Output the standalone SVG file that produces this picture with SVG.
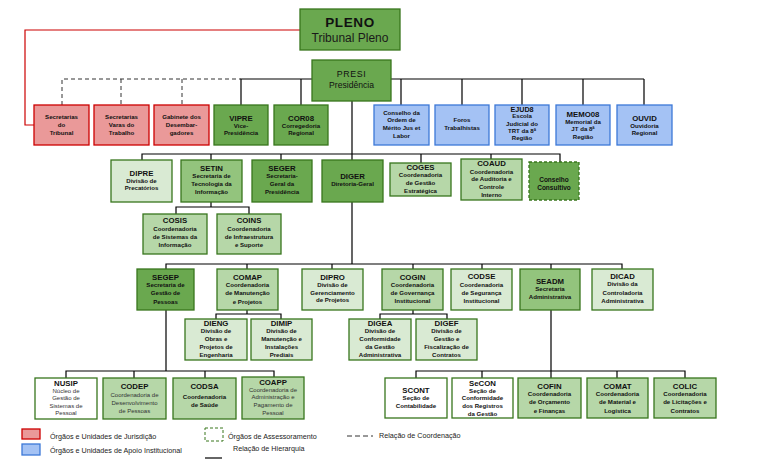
<svg xmlns="http://www.w3.org/2000/svg" width="768" height="470" viewBox="0 0 768 470">
<style>
text{font-family:"Liberation Sans",Arial,sans-serif;text-anchor:middle;fill:#111}
.a{font-size:7.8px;font-weight:bold}
.d{font-size:6.1px;font-weight:bold}
.n{font-size:6px;fill:#333}
.lg{font-size:7.2px;text-anchor:start;fill:#222}
.g1{fill:#6aa84f;stroke:#38761d;stroke-width:1.3}
.g2{fill:#93c47d;stroke:#38761d;stroke-width:1.3}
.g3{fill:#b6d7a8;stroke:#38761d;stroke-width:1.3}
.g4{fill:#d9ead3;stroke:#38761d;stroke-width:1.3}
.w{fill:#ffffff;stroke:#38761d;stroke-width:1.3}
.r{fill:#ea9999;stroke:#cc0000;stroke-width:1.3}
.b{fill:#a4c2f4;stroke:#3c78d8;stroke-width:1.3}
.c{fill:none;stroke:#000;stroke-width:1.2}
.cd{fill:none;stroke:#333;stroke-width:1;stroke-dasharray:4,3}
</style>
<rect width="768" height="470" fill="#fff"/>
<g id="connectors">
<path class="c" d="M300 30 H25 V125 H34" style="stroke:#cc0000"/>
<path class="cd" d="M62 105 V79 H241 M121 79 V105 M182 79 V105"/>
<path class="c" d="M241 105 V79 H312 M301 79 V105"/>
<path class="c" d="M391 79 H644 M401 79 V105 M462 79 V105 M522 79 V105 M583 79 V105 M644 79 V105"/>
<path class="c" d="M352 101 V160 M142 160 V154 H560 V162 M211 154 V160 M281 154 V160 M421 154 V163 M491 154 V159"/>
<path class="c" d="M211 202 V207 M176 214 V207 H249 V214"/>
<path class="c" d="M352 202 V264 M166 269 V264 H622 V269 M247 264 V269 M332 264 V269 M413 264 V269 M482 264 V269 M551 264 V269"/>
<path class="c" d="M247 310 V314 M216 319 V314 H281 V319"/>
<path class="c" d="M413 310 V314 M380 319 V314 H447 V319"/>
<path class="c" d="M166 310 V371 M66 378 V371 H274 V377 M134 371 V378 M205 371 V378"/>
<path class="c" d="M551 310 V378 M416 378 V371 H685 V378 M482 371 V378 M617 371 V378"/>
</g>
<g id="pleno"><rect class="g1" x="300" y="9" width="100" height="41"/>
<text x="350" y="27" style="font-size:13.5px;font-weight:bold;letter-spacing:0.6px">PLENO</text>
<text x="350" y="42" style="font-size:12px;fill:#1a1a1a">Tribunal Pleno</text></g>
<g id="presi"><rect class="g1" x="312" y="60" width="79" height="41"/>
<text x="351.5" y="77" style="font-size:8.8px;letter-spacing:0.6px">PRESI</text>
<text x="351.5" y="88" style="font-size:8.6px">Presidência</text></g>

<g id="sec-tribunal"><rect class="r" x="34" y="105" width="55" height="40"/>
<text class="d" x="61.5" y="119">Secretarias</text><text class="d" x="61.5" y="127">do</text><text class="d" x="61.5" y="135">Tribunal</text></g>
<g id="sec-varas"><rect class="r" x="94" y="105" width="55" height="40"/>
<text class="d" x="121.5" y="119">Secretarias</text><text class="d" x="121.5" y="127">Varas do</text><text class="d" x="121.5" y="135">Trabalho</text></g>
<g id="gabinete"><rect class="r" x="154" y="105" width="55" height="40"/>
<text class="d" x="181.5" y="119">Gabinete dos</text><text class="d" x="181.5" y="127">Desembar-</text><text class="d" x="181.5" y="135">gadores</text></g>
<g id="vipre"><rect class="g1" x="214" y="105" width="54" height="40"/>
<text class="a" x="241" y="121">VIPRE</text><text class="d" x="241" y="128">Vice-</text><text class="d" x="241" y="135">Presidência</text></g>
<g id="cor08"><rect class="g1" x="274" y="105" width="54" height="40"/>
<text class="a" x="301" y="121">COR08</text><text class="d" x="301" y="128">Corregedoria</text><text class="d" x="301" y="135">Regional</text></g>
<g id="conselho-ordem"><rect class="b" x="374" y="105" width="55" height="40"/>
<text class="d" x="401.5" y="115">Conselho da</text><text class="d" x="401.5" y="122">Ordem de</text><text class="d" x="401.5" y="130">Mérito Jus et</text><text class="d" x="401.5" y="138">Labor</text></g>
<g id="foros"><rect class="b" x="435" y="105" width="54" height="40"/>
<text class="d" x="462" y="122">Foros</text><text class="d" x="462" y="130">Trabalhistas</text></g>
<g id="ejud8"><rect class="b" x="495" y="105" width="54" height="40"/>
<text class="a" x="522" y="111.5" style="font-size:7.2px">EJUD8</text><text class="d" x="522" y="118">Escola</text><text class="d" x="522" y="126">Judicial do</text><text class="d" x="522" y="133">TRT da 8ª</text><text class="d" x="522" y="140">Região</text></g>
<g id="memo08"><rect class="b" x="556" y="105" width="54" height="40"/>
<text class="a" x="583" y="117">MEMO08</text><text class="d" x="583" y="124">Memorial da</text><text class="d" x="583" y="131">JT da 8ª</text><text class="d" x="583" y="139">Região</text></g>
<g id="ouvid"><rect class="b" x="617" y="105" width="55" height="40"/>
<text class="a" x="644.5" y="121">OUVID</text><text class="d" x="644.5" y="127.5">Ouvidoria</text><text class="d" x="644.5" y="135">Regional</text></g>

<g id="dipre"><rect class="g4" x="111" y="160" width="61" height="42"/>
<text class="a" x="141.5" y="176">DIPRE</text><text class="d" x="141.5" y="182.5">Divisão de</text><text class="d" x="141.5" y="190">Precatórios</text></g>
<g id="setin"><rect class="g2" x="181" y="160" width="61" height="42"/>
<text class="a" x="211.5" y="171">SETIN</text><text class="d" x="211.5" y="178">Secretaria de</text><text class="d" x="211.5" y="186">Tecnologia da</text><text class="d" x="211.5" y="194">Informação</text></g>
<g id="seger"><rect class="g1" x="252" y="160" width="60" height="42"/>
<text class="a" x="282" y="171">SEGER</text><text class="d" x="282" y="178">Secretaria-</text><text class="d" x="282" y="186">Geral da</text><text class="d" x="282" y="194">Presidência</text></g>
<g id="diger"><rect class="g1" x="322" y="160" width="61" height="42"/>
<text class="a" x="352.5" y="179">DIGER</text><text class="d" x="352.5" y="186">Diretoria-Geral</text></g>
<g id="coges"><rect class="g3" x="390" y="163" width="61" height="33"/>
<text class="a" x="420.5" y="170">COGES</text><text class="d" x="420.5" y="177">Coordenadoria</text><text class="d" x="420.5" y="185">de Gestão</text><text class="d" x="420.5" y="193">Estratégica</text></g>
<g id="coaud"><rect class="g3" x="461" y="159" width="61" height="41"/>
<text class="a" x="491.5" y="166">COAUD</text><text class="d" x="491.5" y="174">Coordenadoria</text><text class="d" x="491.5" y="181">de Auditoria e</text><text class="d" x="491.5" y="189">Controle</text><text class="d" x="491.5" y="197">Interno</text></g>
<g id="conselho-consultivo"><rect class="g1" x="529" y="162" width="50" height="38" style="stroke-dasharray:3,2"/>
<text class="d" x="554" y="182" style="font-size:6.5px">Conselho</text><text class="d" x="554" y="190" style="font-size:6.5px">Consultivo</text></g>

<g id="cosis"><rect class="g3" x="143" y="214" width="64" height="40"/>
<text class="a" x="175" y="223">COSIS</text><text class="d" x="175" y="231">Coordenadoria</text><text class="d" x="175" y="239">de Sistemas da</text><text class="d" x="175" y="247">Informação</text></g>
<g id="coins"><rect class="g3" x="217" y="214" width="64" height="40"/>
<text class="a" x="249" y="223">COINS</text><text class="d" x="249" y="231">Coordenadoria</text><text class="d" x="249" y="239">de Infraestrutura</text><text class="d" x="249" y="247">e Suporte</text></g>

<g id="segep"><rect class="g1" x="137" y="269" width="57" height="41"/>
<text class="a" x="165.5" y="280">SEGEP</text><text class="d" x="165.5" y="287">Secretaria de</text><text class="d" x="165.5" y="295">Gestão de</text><text class="d" x="165.5" y="304">Pessoas</text></g>
<g id="comap"><rect class="g3" x="217" y="269" width="61" height="41"/>
<text class="a" x="247.5" y="280">COMAP</text><text class="d" x="247.5" y="287">Coordenadoria</text><text class="d" x="247.5" y="295">de Manutenção</text><text class="d" x="247.5" y="304">e Projetos</text></g>
<g id="dipro"><rect class="g4" x="302" y="269" width="61" height="41"/>
<text class="a" x="332.5" y="280">DIPRO</text><text class="d" x="332.5" y="287">Divisão de</text><text class="d" x="332.5" y="295">Gerenciamento</text><text class="d" x="332.5" y="302">de Projetos</text></g>
<g id="cogin"><rect class="g3" x="382" y="269" width="61" height="41"/>
<text class="a" x="412.5" y="280">COGIN</text><text class="d" x="412.5" y="287">Coordenadoria</text><text class="d" x="412.5" y="295">de Governança</text><text class="d" x="412.5" y="303">Institucional</text></g>
<g id="codse"><rect class="g4" x="451" y="269" width="61" height="41"/>
<text class="a" x="481.5" y="279">CODSE</text><text class="d" x="481.5" y="287">Coordenadoria</text><text class="d" x="481.5" y="295">de Segurança</text><text class="d" x="481.5" y="303">Institucional</text></g>
<g id="seadm"><rect class="g2" x="520" y="269" width="60" height="41"/>
<text class="a" x="550" y="284">SEADM</text><text class="d" x="550" y="291">Secretaria</text><text class="d" x="550" y="299">Administrativa</text></g>
<g id="dicad"><rect class="g4" x="592" y="269" width="61" height="41"/>
<text class="a" x="622.5" y="279">DICAD</text><text class="d" x="622.5" y="285.5">Divisão da</text><text class="d" x="622.5" y="295">Controladoria</text><text class="d" x="622.5" y="303">Administrativa</text></g>

<g id="dieng"><rect class="g4" x="185" y="319" width="62" height="41"/>
<text class="a" x="216" y="326">DIENG</text><text class="d" x="216" y="333">Divisão de</text><text class="d" x="216" y="341">Obras e</text><text class="d" x="216" y="349">Projetos de</text><text class="d" x="216" y="357">Engenharia</text></g>
<g id="dimip"><rect class="g4" x="251" y="319" width="61" height="41"/>
<text class="a" x="281.5" y="326">DIMIP</text><text class="d" x="281.5" y="333">Divisão de</text><text class="d" x="281.5" y="341">Manutenção e</text><text class="d" x="281.5" y="349">Instalações</text><text class="d" x="281.5" y="357">Prediais</text></g>
<g id="digea"><rect class="g4" x="349" y="319" width="62" height="41"/>
<text class="a" x="380" y="326">DIGEA</text><text class="d" x="380" y="333">Divisão de</text><text class="d" x="380" y="341">Conformidade</text><text class="d" x="380" y="349">da Gestão</text><text class="d" x="380" y="357">Administrativa</text></g>
<g id="digef"><rect class="g4" x="416" y="319" width="61" height="41"/>
<text class="a" x="446.5" y="326">DIGEF</text><text class="d" x="446.5" y="333">Divisão de</text><text class="d" x="446.5" y="341">Gestão e</text><text class="d" x="446.5" y="349">Fiscalização de</text><text class="d" x="446.5" y="357">Contratos</text></g>

<g id="nusip"><rect class="w" x="35" y="378" width="62" height="41"/>
<text class="a" x="66" y="386">NUSIP</text><text class="n" x="66" y="393">Núcleo de</text><text class="n" x="66" y="400">Gestão de</text><text class="n" x="66" y="407.5">Sistemas de</text><text class="n" x="66" y="415">Pessoal</text></g>
<g id="codep"><rect class="g3" x="103" y="378" width="63" height="41"/>
<text class="a" x="134.5" y="389">CODEP</text><text class="n" x="134.5" y="397">Coordenadoria de</text><text class="n" x="134.5" y="405">Desenvolvimento</text><text class="n" x="134.5" y="412.5">de Pessoas</text></g>
<g id="codsa"><rect class="g3" x="173" y="378" width="63" height="41"/>
<text class="a" x="204.5" y="389">CODSA</text><text class="d" x="204.5" y="399">Coordenadoria</text><text class="d" x="204.5" y="407">de Saúde</text></g>
<g id="coapp"><rect class="g3" x="242" y="377" width="62" height="42"/>
<text class="a" x="273" y="385">COAPP</text><text class="n" x="273" y="392">Coordenadoria de</text><text class="n" x="273" y="399">Administração e</text><text class="n" x="273" y="406.5">Pagamento de</text><text class="n" x="273" y="415">Pessoal</text></g>
<g id="scont"><rect class="w" x="385" y="378" width="62" height="40"/>
<text class="a" x="416" y="393">SCONT</text><text class="d" x="416" y="400">Seção de</text><text class="d" x="416" y="408">Contabilidade</text></g>
<g id="secon"><rect class="w" x="452" y="378" width="61" height="40"/>
<text class="a" x="482.5" y="386">SeCON</text><text class="d" x="482.5" y="392.5">Seção de</text><text class="d" x="482.5" y="400">Conformidade</text><text class="d" x="482.5" y="408">dos Registros</text><text class="d" x="482.5" y="415.5">da Gestão</text></g>
<g id="cofin"><rect class="g3" x="518" y="378" width="63" height="40"/>
<text class="a" x="549.5" y="389">COFIN</text><text class="d" x="549.5" y="396">Coordenadoria</text><text class="d" x="549.5" y="404">de Orçamento</text><text class="d" x="549.5" y="413">e Finanças</text></g>
<g id="comat"><rect class="g3" x="587" y="378" width="61" height="40"/>
<text class="a" x="617.5" y="389">COMAT</text><text class="d" x="617.5" y="396">Coordenadoria</text><text class="d" x="617.5" y="404">de Material e</text><text class="d" x="617.5" y="413">Logística</text></g>
<g id="colic"><rect class="g3" x="654" y="378" width="62" height="40"/>
<text class="a" x="685" y="389">COLIC</text><text class="d" x="685" y="396">Coordenadoria</text><text class="d" x="685" y="404">de Licitações e</text><text class="d" x="685" y="413">Contratos</text></g>

<g id="legend">
<rect class="r" x="22" y="429" width="18" height="10"/>
<text class="lg" x="50" y="439">Órgãos e Unidades de Jurisdição</text>
<rect class="b" x="22" y="444" width="18" height="11"/>
<text class="lg" x="50" y="453">Órgãos e Unidades de Apoio Institucional</text>
<rect x="205" y="428" width="18" height="13" fill="none" stroke="#38761d" stroke-width="1" stroke-dasharray="3,2"/>
<text class="lg" x="228" y="439">Órgãos de Assessoramento</text>
<line x1="205" y1="458" x2="222" y2="458" stroke="#000" stroke-width="1.2"/>
<text class="lg" x="233" y="451">Relação de Hierarquia</text>
<line x1="347" y1="436" x2="373" y2="436" stroke="#333" stroke-width="1" stroke-dasharray="5,3"/>
<text class="lg" x="379" y="438">Relação de Coordenação</text>
</g>
</svg>
